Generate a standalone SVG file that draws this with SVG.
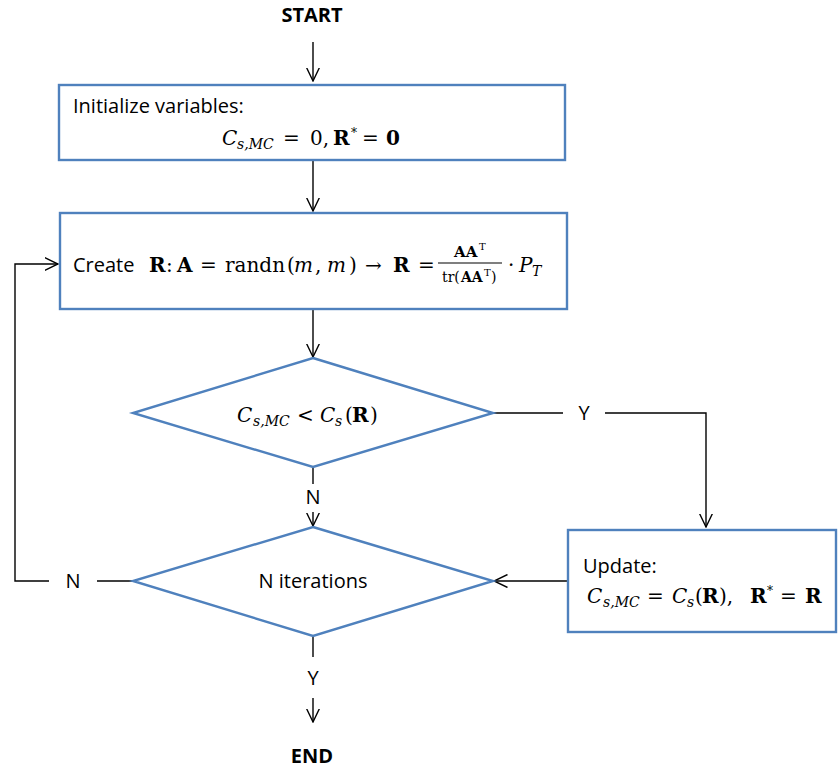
<svg xmlns="http://www.w3.org/2000/svg" width="838" height="770" viewBox="0 0 838 770">
<style>
.box{fill:#fff;stroke:#4F81BD;stroke-width:2.4}
.ln{fill:none;stroke:#000;stroke-width:1.4}
.t{font-family:"Open Sans",Lato,sans-serif;font-size:20px;fill:#000}
.tb{font-family:"Open Sans",Lato,sans-serif;font-size:20px;font-weight:bold;fill:#000}
.m{font-family:"DejaVu Serif","Liberation Serif",serif;font-size:20px;fill:#000}
.i{font-style:italic}
.b{font-weight:bold}
.s{font-size:14px;font-style:italic}
.n{font-size:15px}
.d{font-size:14px}
.sup{font-size:12px}
.st{font-size:10px}
</style>
<defs>
<marker id="ah" markerUnits="userSpaceOnUse" viewBox="0 0 14 14" refX="13.5" refY="7" markerWidth="14" markerHeight="14" orient="auto">
<path d="M0,0.5 L13.5,7 L0,13.5" fill="none" stroke="#000" stroke-width="1.4"/>
</marker>
</defs>
<g id="connectors">
<line class="ln" x1="313" y1="42" x2="313" y2="81" marker-end="url(#ah)"/>
<line class="ln" x1="313" y1="160" x2="313" y2="211" marker-end="url(#ah)"/>
<line class="ln" x1="313" y1="310" x2="313" y2="357" marker-end="url(#ah)"/>
<polyline class="ln" points="493,413 563,413"/>
<polyline class="ln" points="605,413 706,413 706,527" marker-end="url(#ah)"/>
<line class="ln" x1="313" y1="467" x2="313" y2="484"/>
<line class="ln" x1="313" y1="512" x2="313" y2="526" marker-end="url(#ah)"/>
<line class="ln" x1="568" y1="581" x2="494" y2="581" marker-end="url(#ah)"/>
<line class="ln" x1="133" y1="581" x2="97" y2="581"/>
<polyline class="ln" points="49,581 15,581 15,264 58,264" marker-end="url(#ah)"/>
<line class="ln" x1="313" y1="636" x2="313" y2="657"/>
<line class="ln" x1="313" y1="698" x2="313" y2="722" marker-end="url(#ah)"/>
<text class="t" x="313" y="504" text-anchor="middle">N</text>
<text class="t" x="584" y="420" text-anchor="middle">Y</text>
<text class="t" x="73" y="588" text-anchor="middle">N</text>
<text class="t" x="313" y="685" text-anchor="middle">Y</text>
</g>
<g id="start"><text class="tb" x="312" y="22" text-anchor="middle">START</text></g>
<g id="end"><text class="tb" x="312" y="763" text-anchor="middle">END</text></g>
<g id="init">
<rect class="box" x="59" y="85" width="506" height="75"/>
<text class="t" x="73" y="113">Initialize  variables:</text>
<text class="m"><tspan class="i" x="222" y="145">C</tspan><tspan class="s" x="237" y="149">s,MC</tspan><tspan x="283" y="145">=</tspan><tspan x="310" y="145">0,</tspan><tspan class="b" x="333" y="145">R</tspan><tspan class="sup" x="351" y="137">*</tspan><tspan x="362" y="145">=</tspan><tspan class="b" x="386" y="145">0</tspan></text>
</g>
<g id="create">
<rect class="box" x="60" y="213" width="507" height="96"/>
<text class="t" x="73" y="272">Create</text>
<text class="m"><tspan class="b" x="149" y="272">R</tspan><tspan x="166" y="272">:</tspan><tspan class="b" x="177" y="272">A</tspan><tspan x="200" y="272">=</tspan><tspan x="225" y="272">randn</tspan><tspan x="287" y="272">(</tspan><tspan class="i" x="294" y="272">m</tspan><tspan x="315" y="272">,</tspan><tspan class="i" x="327" y="272">m</tspan><tspan x="349" y="272">)</tspan><tspan x="365" y="272">→</tspan><tspan class="b" x="393" y="272">R</tspan><tspan x="418" y="272">=</tspan></text>
<text class="m n"><tspan class="b" x="454" y="257">AA</tspan><tspan class="st" x="479" y="250">T</tspan></text>
<line x1="438" y1="263" x2="502" y2="263" stroke="#000" stroke-width="1.2"/>
<text class="m d"><tspan x="442" y="282">tr(</tspan><tspan class="b" x="461" y="282">AA</tspan><tspan class="st" x="484" y="276">T</tspan><tspan x="491" y="282">)</tspan></text>
<text class="m"><tspan x="508" y="272">·</tspan><tspan class="i" x="519" y="272">P</tspan><tspan class="s" x="532" y="276">T</tspan></text>
</g>
<g id="cond">
<polygon class="box" points="313,358 493,413 313,467 133,413"/>
<text class="m"><tspan class="i" x="237" y="422">C</tspan><tspan class="s" x="253" y="426">s,MC</tspan><tspan x="297" y="422">&lt;</tspan><tspan class="i" x="320" y="422">C</tspan><tspan class="s" x="335" y="426">s</tspan><tspan x="345" y="422">(</tspan><tspan class="b" x="352" y="422">R</tspan><tspan x="370" y="422">)</tspan></text>
</g>
<g id="iter">
<polygon class="box" points="313,527 493,581 313,636 133,581"/>
<text class="t" x="313" y="588" text-anchor="middle">N iterations</text>
</g>
<g id="update">
<rect class="box" x="568" y="530" width="268" height="102"/>
<text class="t" x="583" y="573">Update:</text>
<text class="m"><tspan class="i" x="587" y="603">C</tspan><tspan class="s" x="603" y="607">s,MC</tspan><tspan x="647" y="603">=</tspan><tspan class="i" x="672" y="603">C</tspan><tspan class="s" x="687" y="607">s</tspan><tspan x="695" y="603">(</tspan><tspan class="b" x="702" y="603">R</tspan><tspan x="719" y="603">),</tspan><tspan class="b" x="750" y="603">R</tspan><tspan class="sup" x="767" y="595">*</tspan><tspan x="780" y="603">=</tspan><tspan class="b" x="805" y="603">R</tspan></text>
</g>
</svg>
